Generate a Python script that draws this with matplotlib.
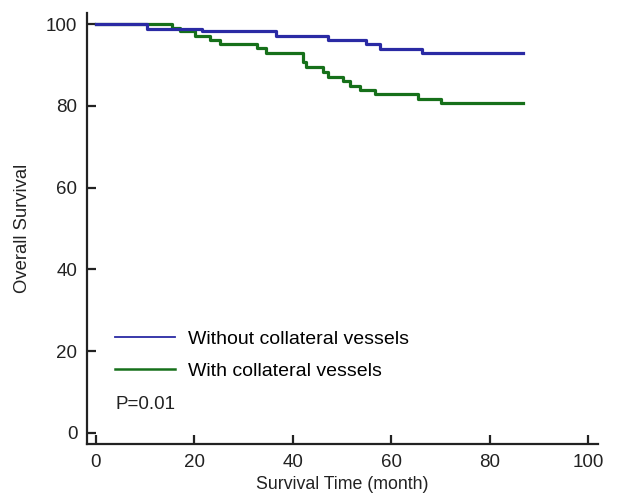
import matplotlib
matplotlib.use("Agg")
import matplotlib.pyplot as plt
from matplotlib.lines import Line2D

plt.rcParams['font.family'] = ['Liberation Sans', 'DejaVu Sans']

# Kaplan-Meier step data (time in months, survival in %)
blue_times = [0, 10.4, 21.5, 36.6, 47.2, 54.9, 57.8, 66.3, 86.8]
blue_surv = [100, 98.9, 98.2, 97.1, 96.0, 95.0, 94.0, 92.9, 92.9]

green_times = [0, 15.4, 17.1, 20.1, 23.2, 25.2, 32.7, 34.6, 42.0, 42.7,
               46.1, 47.2, 50.2, 51.6, 53.7, 56.7, 65.4, 70.2, 86.8]
green_surv = [100, 99.1, 98.2, 97.1, 96.1, 95.0, 94.1, 93.0, 90.8, 89.6,
              88.2, 87.1, 86.1, 84.9, 83.9, 82.8, 81.7, 80.8, 80.8]

labels = ["Without collateral vessels", "With collateral vessels"]
xticks = [0, 20, 40, 60, 80, 100]
yticks = [0, 20, 40, 60, 80, 100]
p_text = "P=0.01"

blue_c = "#2A2AA4"
green_c = "#16701A"

fig = plt.figure(figsize=(6.28, 4.97), dpi=100)
ax = fig.add_axes([87/628, 1-444/497, (598-87)/628, (444-13)/497])

ax.step(green_times, green_surv, where='post', color=green_c, lw=2.3)
ax.step(blue_times, blue_surv, where='post', color=blue_c, lw=2.3)

ax.set_xlim(-1.8, 102)
ax.set_ylim(-2.7, 102.7)
ax.set_xticks(xticks)
ax.set_yticks(yticks)

for s in ['top', 'right']:
    ax.spines[s].set_visible(False)
for s in ['left', 'bottom']:
    ax.spines[s].set_linewidth(1.6)
    ax.spines[s].set_color('#222222')

ax.tick_params(direction='in', length=6.5, width=1.6, colors='#222222',
               labelsize=13.5, labelcolor='#222222')
ax.tick_params(axis='y', pad=7)
ax.tick_params(axis='x', pad=7)

ax.set_xlabel("Survival Time (month)", fontsize=12.8, color='#222222', labelpad=4)
ax.set_ylabel("Overall Survival", fontsize=13.3, color='#222222', labelpad=11)

handles = [Line2D([], [], color=blue_c, lw=1.3), Line2D([], [], color=green_c, lw=1.8)]
ax.legend(handles, labels, loc='upper left', bbox_to_anchor=(0.0548, 0.263),
          frameon=False, fontsize=14, handlelength=3.1, handletextpad=0.67,
          labelspacing=0.72, borderpad=0, borderaxespad=0)

ax.text(0.0548, 0.0905, p_text, transform=ax.transAxes, fontsize=13.5,
        va='center', ha='left', color='#222222')

fig.savefig("out.png", dpi=100)
